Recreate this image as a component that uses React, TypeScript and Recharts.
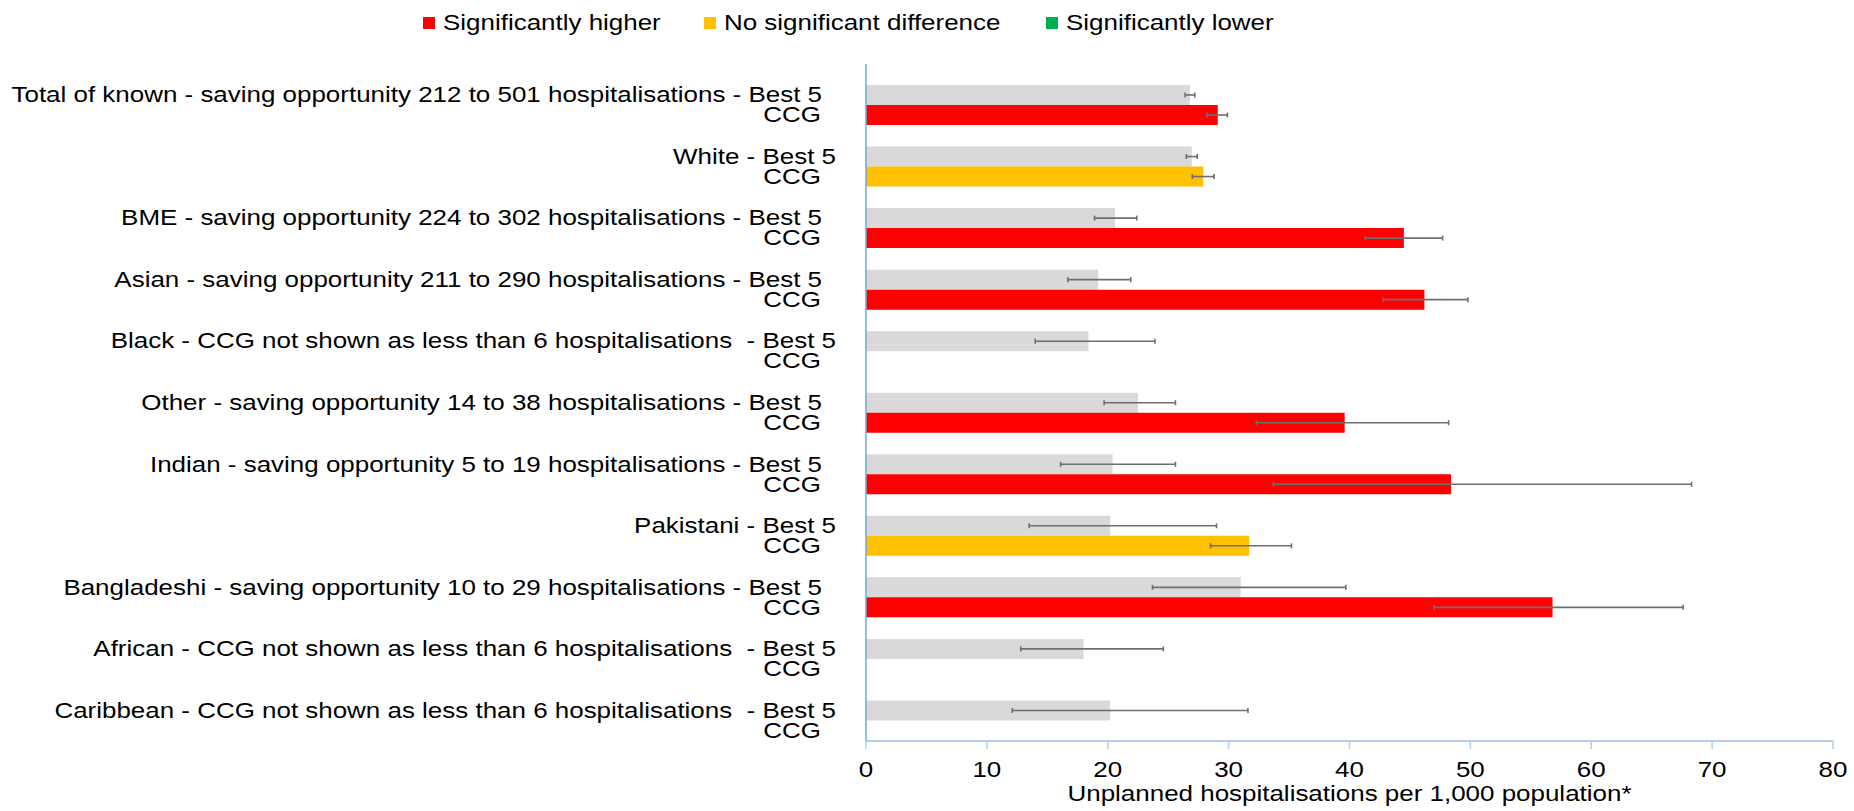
import React from "react";
import { BarChart, Bar, XAxis, YAxis, ErrorBar, Cell, Label } from "recharts";

// category labels (first line, the second line is always "CCG")
const groups = [
  "Total of known - saving opportunity 212 to 501 hospitalisations - Best 5",
  "White - Best 5",
  "BME - saving opportunity 224 to 302 hospitalisations - Best 5",
  "Asian - saving opportunity 211 to 290 hospitalisations - Best 5",
  "Black - CCG not shown as less than 6 hospitalisations  - Best 5",
  "Other - saving opportunity 14 to 38 hospitalisations - Best 5",
  "Indian - saving opportunity 5 to 19 hospitalisations - Best 5",
  "Pakistani - Best 5",
  "Bangladeshi - saving opportunity 10 to 29 hospitalisations - Best 5",
  "African - CCG not shown as less than 6 hospitalisations  - Best 5",
  "Caribbean - CCG not shown as less than 6 hospitalisations  - Best 5",
];

const best5 = [26.8, 26.95, 20.6, 19.2, 18.4, 22.5, 20.4, 20.2, 31.0, 18.0, 20.2];
const best5Low = [26.4, 26.5, 18.9, 16.7, 14.0, 19.7, 16.1, 13.5, 23.7, 12.8, 12.1];
const best5High = [27.2, 27.4, 22.4, 21.9, 23.9, 25.6, 25.6, 29.0, 39.7, 24.6, 31.6];

const ccg = [29.1, 27.9, 44.5, 46.2, null, 39.6, 48.4, 31.7, 56.8, null, null];
const ccgLow = [28.2, 27.0, 41.3, 42.8, null, 32.3, 33.7, 28.5, 47.0, null, null];
const ccgHigh = [29.9, 28.8, 47.7, 49.8, null, 48.2, 68.3, 35.2, 67.6, null, null];
const significance = ["higher", "none", "higher", "higher", null, "higher", "higher", "none", "higher", null, null];

const xTicks = [0, 10, 20, 30, 40, 50, 60, 70, 80];

const SIG_COLOURS: Record<string, string> = { higher: "#FF0000", none: "#FFC000", lower: "#00B050" };
const legendItems = [
  { key: "higher", label: "Significantly higher" },
  { key: "none", label: "No significant difference" },
  { key: "lower", label: "Significantly lower" },
];
const legendX = [423, 704, 1046];

const FONT = "'Liberation Sans', Arial, sans-serif";
const STRETCH = 1.18;

const data = groups.map((name, i) => ({
  name,
  spacer: 0,
  best5: best5[i],
  best5Err: [best5[i] - best5Low[i], best5High[i] - best5[i]],
  ccg: ccg[i],
  ccgErr: ccg[i] == null ? null : [ccg[i]! - ccgLow[i]!, ccgHigh[i]! - ccg[i]!],
  sig: significance[i],
}));

function StretchText({ x, y, anchor, children }: any) {
  return (
    <g transform={`translate(${x},${y}) scale(${STRETCH},1)`}>
      <text textAnchor={anchor} fontSize={22} fontFamily={FONT} fill="#000" style={{ whiteSpace: "pre" }}>
        {children}
      </text>
    </g>
  );
}

function GroupTick({ x, y, payload }: any) {
  const label = payload.value as string;
  const shift = label.includes("saving") ? 44 : 30;
  return (
    <g>
      <StretchText x={x - shift} y={y + 7.5} anchor="end">{label}</StretchText>
      <StretchText x={x - 45} y={y + 27.5} anchor="end">CCG</StretchText>
    </g>
  );
}

function ValueTick({ x, y, payload }: any) {
  return <StretchText x={x} y={y + 28} anchor="middle">{payload.value}</StretchText>;
}

function AxisTitle({ viewBox }: any) {
  return (
    <StretchText x={viewBox.x + viewBox.width / 2} y={viewBox.y + 60} anchor="middle">
      Unplanned hospitalisations per 1,000 population*
    </StretchText>
  );
}

export default function App() {
  return (
    <div style={{ position: "absolute", left: 0, top: 0, width: 1854, height: 811, background: "#fff" }}>
      <svg width={1854} height={50} style={{ position: "absolute", left: 0, top: 0 }}>
        {legendItems.map((item, i) => (
          <g key={item.key}>
            <rect x={legendX[i]} y={17} width={12} height={12} fill={SIG_COLOURS[item.key]} />
            <StretchText x={legendX[i] + 20} y={30} anchor="start">{item.label}</StretchText>
          </g>
        ))}
      </svg>
      <BarChart
        width={1854}
        height={811}
        data={data}
        layout="vertical"
        margin={{ top: 64, right: 21, bottom: 0, left: 0 }}
        barSize={20}
        barGap={0}
        barCategoryGap={0}
      >
        <XAxis
          type="number"
          domain={[0, 80]}
          ticks={xTicks}
          height={70}
          tickSize={8}
          tickMargin={0}
          axisLine={{ stroke: "#B4CFEB", strokeWidth: 2 }}
          tickLine={{ stroke: "#B4CFEB", strokeWidth: 1.5 }}
          tick={<ValueTick />}
        >
          <Label content={<AxisTitle />} />
        </XAxis>
        <YAxis
          type="category"
          dataKey="name"
          width={866}
          interval={0}
          tickLine={false}
          tickSize={0}
          tickMargin={0}
          axisLine={{ stroke: "#6FA8DC", strokeWidth: 1.5 }}
          tick={<GroupTick />}
        />
        <Bar dataKey="spacer" fill="transparent" isAnimationActive={false} />
        <Bar dataKey="best5" fill="#D9D9D9" isAnimationActive={false}>
          <ErrorBar dataKey="best5Err" direction="x" width={2.5} stroke="#6E6E6E" strokeWidth={1.6} />
        </Bar>
        <Bar dataKey="ccg" isAnimationActive={false}>
          {data.map((d, i) => (
            <Cell key={i} fill={d.sig ? SIG_COLOURS[d.sig] : "transparent"} />
          ))}
          <ErrorBar dataKey="ccgErr" direction="x" width={2.5} stroke="#6E6E6E" strokeWidth={1.6} />
        </Bar>
      </BarChart>
    </div>
  );
}
